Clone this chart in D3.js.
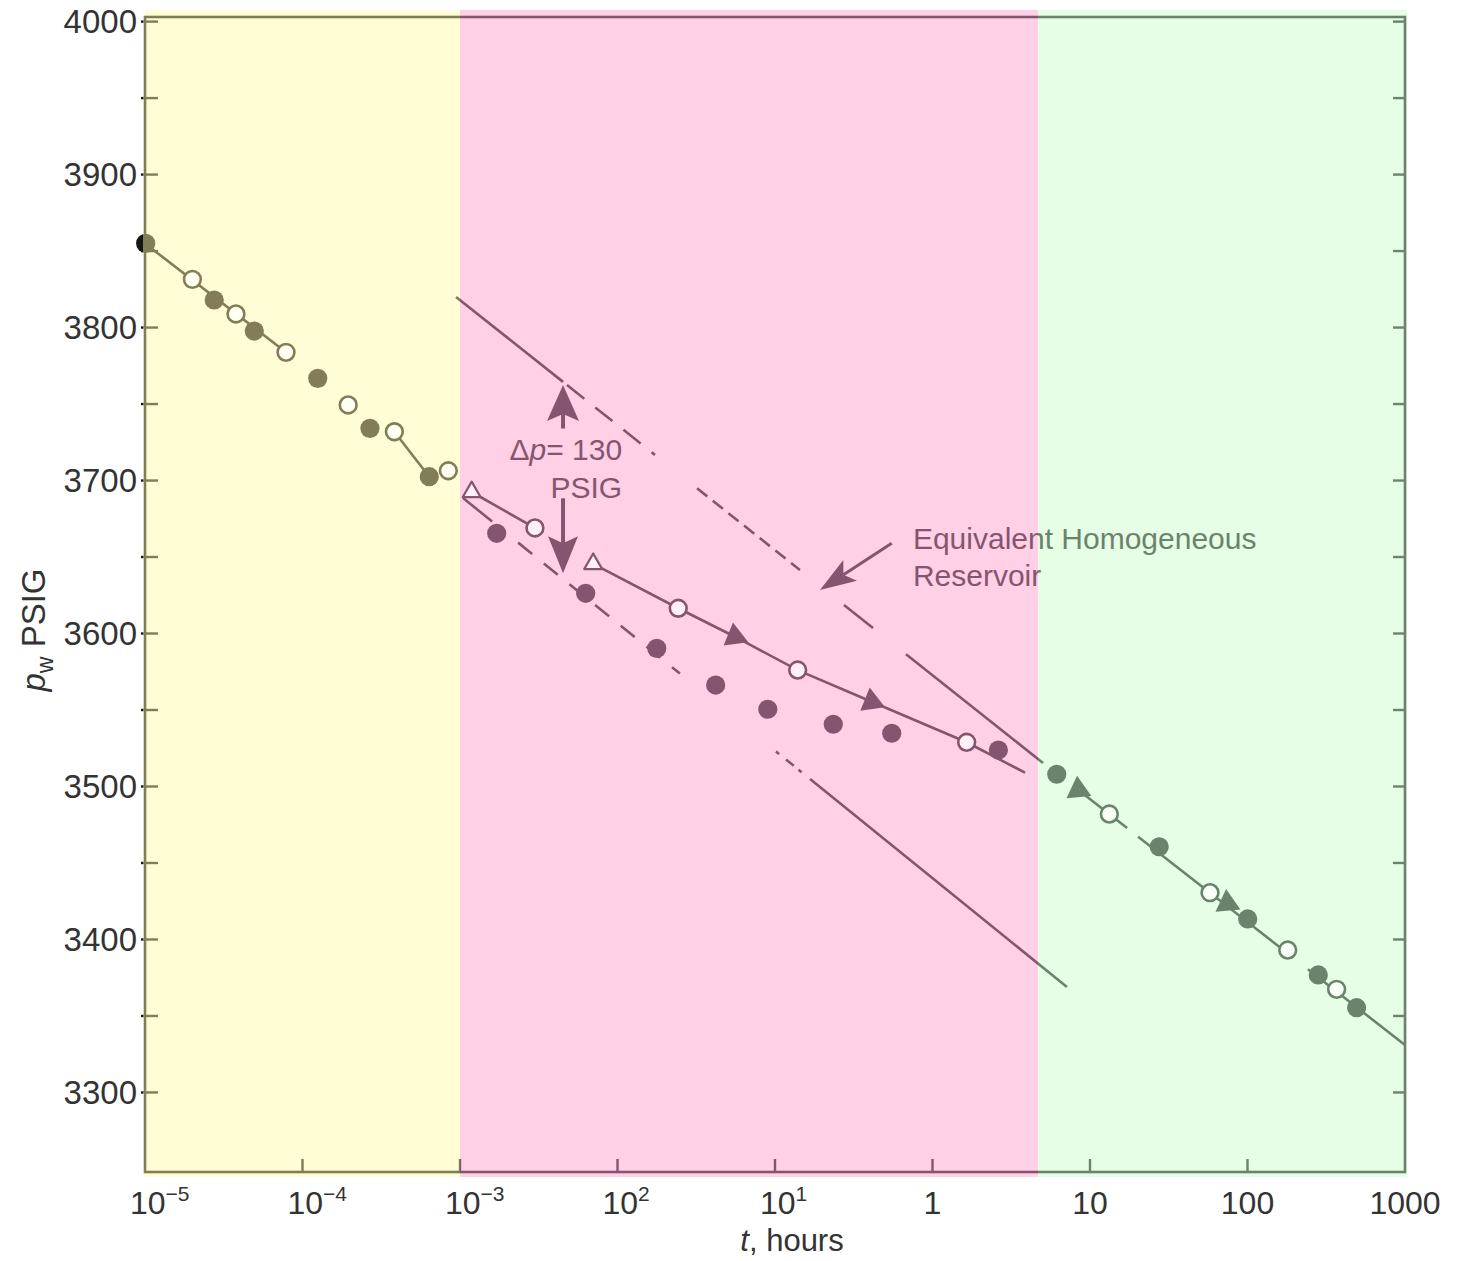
<!DOCTYPE html>
<html>
<head>
<meta charset="utf-8">
<title>Pressure vs time</title>
<script src="https://cdn.jsdelivr.net/npm/d3@7"></script>
<style>
  body { margin: 0; background: #fff; }
  text { font-family: "Liberation Sans", Arial, Helvetica, sans-serif; }
</style>
</head>
<body>
<script>
// ---- data: [t hours, p psig] ----
var xTickValues = [1e-5, 1e-4, 1e-3, 1e-2, 1e-1, 1, 10, 100, 1000];
var xTickBase = ["10", "10", "10", "10", "10", "1", "10", "100", "1000"];
var xTickExp = ["\u22125", "\u22124", "\u22123", "2", "1", "", "", "", ""];
var yMajorTicks = [3300, 3400, 3500, 3600, 3700, 3800, 3900, 4000];
var yMinorTicks = [3350, 3450, 3550, 3650, 3750, 3850, 3950];
var regionBounds = [1e-5, 1e-3, 4.7, 1000];

var earlyFilled = [[1.01e-5, 3855], [2.75e-5, 3818], [4.94e-5, 3797.7], [1.25e-4, 3766.8], [2.68e-4, 3734.1], [6.38e-4, 3702.5]];
var earlyOpen = [[2.0e-5, 3831.5], [3.78e-5, 3808.9], [7.86e-5, 3783.8], [1.95e-4, 3749.4], [3.83e-4, 3731.9], [8.43e-4, 3706.4]];
var earlyLineA = [[1e-5, 3855], [7.86e-5, 3783.8]];
var earlyLineB = [[3.83e-4, 3731.9], [6.38e-4, 3702.5]];

var midFilled = [[1.71e-3, 3665.5], [6.28e-3, 3626.3], [0.01775, 3590.3], [0.042, 3566.3], [0.09, 3550.5], [0.2344, 3540.7], [0.551, 3534.8], [2.62, 3523.8]];
var midOpen = [[2.99e-3, 3669], [0.0243, 3616.5], [0.1393, 3576.1], [1.648, 3528.9]];
var midOpenTri = [[1.186e-3, 3692.5], [7.01e-3, 3645.5]];
var midFilledTri = [[0.0557, 3597.9], [0.411, 3555.4]];
var midLine1 = [[1.186e-3, 3692.5], [2.99e-3, 3669]];
var midLine2 = [[7.01e-3, 3645.5], [0.0243, 3616.5], [0.0557, 3597.9], [0.1393, 3576.1], [0.411, 3555.4], [1.648, 3528.9], [3.87, 3509]];

var lateFilled = [[6.15, 3508], [27.5, 3460.6], [100.3, 3413.4], [281.5, 3376.8], [493, 3355.4]];
var lateOpen = [[13.27, 3482], [57.8, 3430.6], [180, 3393.1], [368, 3367.4]];
var lateTri = [[8.43, 3497.7], [74.5, 3423.6]];
var lateLine = [[8.43, 3497.7], [1000, 3331]];
var lateParts = [[8.43, 17.2], [20.2, 194.5], [242, 1000]];

// semilog straight lines (equivalent homogeneous reservoir and the one 130 psi below)
var homogLine = [[9.44e-4, 3820], [5.03, 3515.4]];
var homogParts = [[9.44e-4, 4.51e-3], [4.78e-3, 0.0173], [0.032, 0.144], [0.274, 0.419], [0.679, 5.03]];
var lowerLine = [[1.045e-3, 3688.6], [7.14, 3368.9]];
var lowerParts = [[1.045e-3, 1.6e-3], [2.34e-3, 0.0249], [0.1014, 0.148], [0.167, 7.14]];

// ---- layout ----
var W = 1461, H = 1261;
var X0 = 145, X1 = 1405, Y0 = 17, Y1 = 1172;

var svg = d3.select("body").append("svg")
    .attr("width", W).attr("height", H)
    .style("display", "block");

var xScale = d3.scaleLog().domain([1e-5, 1000]).range([X0, X1]);
var yScale = d3.scaleLinear().domain([3248, 4003]).range([Y1, Y0]);

var bgColors = ["#fefdd5", "#ffd0e6", "#e6fde6"];
var inkColors = ["#161616", "#827c57", "#85546f", "#6b826c"];
var paperColors = ["#ffffff", "#fffff2", "#fff0f7", "#f7fff7"];
var edges = [X0 - 1.6, xScale(regionBounds[1]), xScale(regionBounds[2])];

// the ink takes the colour of the zone it sits in: hard-stop gradients in page space
var defs = svg.append("defs");
function zoneGradient(id, colors) {
    var g = defs.append("linearGradient").attr("id", id)
        .attr("gradientUnits", "userSpaceOnUse")
        .attr("x1", 0).attr("y1", 0).attr("x2", W).attr("y2", 0);
    for (var i = 0; i < colors.length; i++) {
        var a = i == 0 ? 0 : edges[i - 1] / W;
        var b = i == colors.length - 1 ? 1 : edges[i] / W;
        g.append("stop").attr("offset", a).attr("stop-color", colors[i]);
        g.append("stop").attr("offset", b).attr("stop-color", colors[i]);
    }
}
zoneGradient("ink", inkColors);
zoneGradient("paper", paperColors);

// zone backgrounds
for (var i = 0; i < 3; i++) {
    svg.append("rect")
        .attr("x", xScale(regionBounds[i]))
        .attr("y", Y0 - 7)
        .attr("width", xScale(regionBounds[i + 1]) - xScale(regionBounds[i]) + (i == 2 ? 2 : 0))
        .attr("height", Y1 - Y0 + 12)
        .attr("fill", bgColors[i]);
}

var plot = svg.append("g");

// frame
plot.append("rect")
    .attr("x", X0).attr("y", Y0)
    .attr("width", X1 - X0).attr("height", Y1 - Y0)
    .attr("fill", "none").attr("stroke", "url(#ink)").attr("stroke-width", 2.6);

// ticks (absolute coords so the gradient lines up)
var yAll = yMajorTicks.concat(yMinorTicks);
yAll.forEach(function (v) {
    plot.append("line")
        .attr("x1", X0 - 4).attr("x2", X0 + 13)
        .attr("y1", yScale(v)).attr("y2", yScale(v))
        .attr("stroke", "url(#ink)").attr("stroke-width", 2.4);
    plot.append("line")
        .attr("x1", X1 - 12).attr("x2", X1)
        .attr("y1", yScale(v)).attr("y2", yScale(v))
        .attr("stroke", "url(#ink)").attr("stroke-width", 2.4);
});
xTickValues.slice(1, -1).forEach(function (v) {
    plot.append("line")
        .attr("x1", xScale(v)).attr("x2", xScale(v))
        .attr("y1", Y1).attr("y2", Y1 - 13)
        .attr("stroke", "url(#ink)").attr("stroke-width", 2.4);
});

// y tick labels
var yAxis = d3.axisLeft(yScale).tickValues(yMajorTicks)
    .tickFormat(d3.format("d")).tickSize(0).tickPadding(8);
var yg = svg.append("g").attr("transform", "translate(" + X0 + ",0)").call(yAxis);
yg.select(".domain").remove();
yg.selectAll("text")
    .attr("font-family", "Liberation Sans, Arial, sans-serif")
    .attr("font-size", "33px")
    .attr("fill", "#333");

// x tick labels with superscripts
xTickValues.forEach(function (v, i) {
    var t = svg.append("text")
        .attr("y", 1214)
        .attr("font-size", "32px")
        .attr("fill", "#333");
    if (xTickExp[i]) {
        t.attr("x", xScale(v) - 15).attr("text-anchor", "start");
        t.append("tspan").text(xTickBase[i]);
        t.append("tspan").attr("dy", -13).attr("font-size", "21px").text(xTickExp[i]);
    } else {
        t.attr("x", xScale(v)).attr("text-anchor", "middle").text(xTickBase[i]);
    }
});

// axis titles
var xt = svg.append("text")
    .attr("x", 792).attr("y", 1251)
    .attr("text-anchor", "middle")
    .attr("font-size", "31px").attr("fill", "#333");
xt.append("tspan").attr("font-style", "italic").text("t");
xt.append("tspan").text(", hours");

var ytl = svg.append("text")
    .attr("transform", "translate(45,630) rotate(-90)")
    .attr("text-anchor", "middle")
    .attr("font-size", "33px").attr("fill", "#333");
ytl.append("tspan").attr("font-style", "italic").text("p");
ytl.append("tspan").attr("dy", 8).attr("font-size", "23px").text("w");
ytl.append("tspan").attr("dy", -8).text(" PSIG");

// ---- data lines ----
var line = d3.line()
    .x(function (d) { return xScale(d[0]); })
    .y(function (d) { return yScale(d[1]); });

function drawPath(pts, width, dash) {
    var p = plot.append("path")
        .attr("d", line(pts))
        .attr("fill", "none")
        .attr("stroke", "url(#ink)")
        .attr("stroke-width", width);
    if (dash) p.attr("stroke-dasharray", dash);
}
function pAt(ends, t) {
    var a = Math.log10(ends[0][0]), b = Math.log10(ends[1][0]);
    var f = (Math.log10(t) - a) / (b - a);
    return ends[0][1] + f * (ends[1][1] - ends[0][1]);
}
function drawStraight(ends, parts, dashes, width) {
    parts.forEach(function (r, i) {
        drawPath([[r[0], pAt(ends, r[0])], [r[1], pAt(ends, r[1])]], width, dashes[i]);
    });
}

drawStraight(homogLine, homogParts, [null, "22,14", "13,7", null, null], 2.6);
drawStraight(lowerLine, lowerParts, [null, "18,15", "4,9,10,6", null], 2.6);
drawStraight(lateLine, lateParts, [null, null, null], 2.6);
drawPath(earlyLineA, 2.6);
drawPath(earlyLineB, 2.6);
drawPath(midLine1, 2.6);
drawPath(midLine2, 2.6);

// ---- markers ----
function drawCircles(pts, open) {
    plot.selectAll(null).data(pts).enter().append("circle")
        .attr("cx", function (d) { return xScale(d[0]); })
        .attr("cy", function (d) { return yScale(d[1]); })
        .attr("r", open ? 8.4 : 9.6)
        .attr("fill", open ? "url(#paper)" : "url(#ink)")
        .attr("stroke", open ? "url(#ink)" : "none")
        .attr("stroke-width", open ? 2.6 : 0);
}
function triPath(cx, cy, s, deg) {
    var r = s / Math.sqrt(3), a = deg * Math.PI / 180;
    var pts = [-90, 30, 150].map(function (b) {
        var q = b * Math.PI / 180 + a;
        return [cx + r * Math.cos(q), cy + r * Math.sin(q)];
    });
    return "M" + pts.join("L") + "Z";
}
function drawTriangles(pts, open, deg) {
    plot.selectAll(null).data(pts).enter().append("path")
        .attr("d", function (d) { return triPath(xScale(d[0]), yScale(d[1]), open ? 18 : 25, deg); })
        .attr("fill", open ? "url(#paper)" : "url(#ink)")
        .attr("stroke", open ? "url(#ink)" : "none")
        .attr("stroke-width", open ? 2.2 : 0)
        .attr("stroke-linejoin", "round");
}

drawCircles(earlyFilled, false);
drawCircles(earlyOpen, true);
drawCircles(midFilled, false);
drawCircles(midOpen, true);
drawCircles(lateFilled, false);
drawCircles(lateOpen, true);
drawTriangles(midOpenTri, true, 0);
drawTriangles(midFilledTri, false, -8);
drawTriangles(lateTri, false, -5);

// ---- annotations ----
function arrow(tail, tip, len, half, notch, width) {
    var x1 = xScale(tail[0]), y1 = yScale(tail[1]), x2 = xScale(tip[0]), y2 = yScale(tip[1]);
    var dx = x2 - x1, dy = y2 - y1, L = Math.sqrt(dx * dx + dy * dy);
    var ux = dx / L, uy = dy / L, nx = -uy, ny = ux;
    var bx = x2 - ux * len, by = y2 - uy * len;
    var mx = x2 - ux * (len - notch), my = y2 - uy * (len - notch);
    plot.append("line")
        .attr("x1", x1).attr("y1", y1).attr("x2", mx).attr("y2", my)
        .attr("stroke", "url(#ink)").attr("stroke-width", width);
    plot.append("path")
        .attr("d", "M" + x2 + "," + y2 +
            "L" + (bx + nx * half) + "," + (by + ny * half) +
            "L" + mx + "," + my +
            "L" + (bx - nx * half) + "," + (by - ny * half) + "Z")
        .attr("fill", "url(#ink)");
}

arrow([4.51e-3, 3734], [4.51e-3, 3762.4], 36, 16, 7, 4);
arrow([4.51e-3, 3688.4], [4.51e-3, 3639.4], 37, 15, 7, 4);
arrow([0.551, 3659], [0.193, 3628.4], 36, 12.5, 8, 3);

var dp = plot.append("text")
    .attr("x", xScale(0.0107)).attr("y", yScale(3713.4))
    .attr("text-anchor", "end")
    .attr("font-size", "30px").attr("fill", "url(#ink)");
dp.append("tspan").text("\u0394");
dp.append("tspan").attr("font-style", "italic").text("p");
dp.append("tspan").text("= 130");
plot.append("text")
    .attr("x", xScale(0.0107)).attr("y", yScale(3688.6))
    .attr("text-anchor", "end")
    .attr("font-size", "30px").attr("fill", "url(#ink)")
    .text("PSIG");

plot.append("text")
    .attr("x", xScale(0.751)).attr("y", yScale(3655.2))
    .attr("font-size", "30px").attr("fill", "url(#ink)")
    .text("Equivalent Homogeneous");
plot.append("text")
    .attr("x", xScale(0.751)).attr("y", yScale(3631))
    .attr("font-size", "30px").attr("fill", "url(#ink)")
    .text("Reservoir");
</script>
</body>
</html>
